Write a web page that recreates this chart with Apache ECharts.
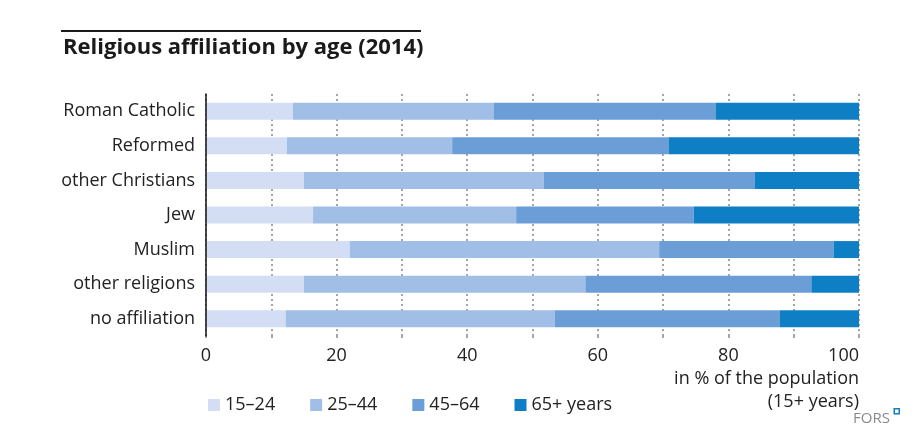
<!DOCTYPE html>
<html>
<head>
<meta charset="utf-8">
<script src="https://cdn.jsdelivr.net/npm/echarts@6/dist/echarts.min.js"></script>
<style>html,body{margin:0;padding:0;background:#fff}#c{width:920px;height:442px}</style>
</head>
<body>
<div id="c"></div>
<script>
const categories = ["Roman Catholic", "Reformed", "other Christians", "Jew", "Muslim", "other religions", "no affiliation"];
const seriesNames = ["15\u201324", "25\u201344", "45\u201364", "65+ years"];
const age15_24 = [13.3, 12.4, 15.0, 16.4, 22.0, 15.0, 12.2];
const age25_44 = [30.8, 25.3, 36.7, 31.1, 47.4, 43.1, 41.2];
const age45_64 = [34.0, 33.2, 32.3, 27.2, 26.7, 34.6, 34.5];
const age65plus = [21.9, 29.1, 16.0, 25.3, 3.9, 7.3, 12.1];
const colors = ["#d3def4", "#a1bee6", "#6b9ed7", "#0f7fc5"];
const FONT = "Open Sans";

const chart = echarts.init(document.getElementById('c'), null, {renderer: 'canvas'});
const values = [age15_24, age25_44, age45_64, age65plus];
chart.setOption({
  animation: false,
  color: colors,
  textStyle: {fontFamily: FONT},
  title: {
    text: "Religious affiliation by age (2014)",
    left: 58, top: 32,
    textStyle: {fontFamily: FONT, fontWeight: 'bold', fontSize: 22, color: '#1a1a1a'}
  },
  graphic: [
    {type: 'line', shape: {x1: 61, y1: 31, x2: 421, y2: 31}, style: {stroke: '#1a1a1a', lineWidth: 2}},
    {type: 'text', right: 61, top: 367, style: {text: "in % of the population\n(15+ years)", font: '18px "' + FONT + '"', fill: '#222', textAlign: 'right', lineHeight: 23}},
    {type: 'text', right: 30, top: 411, style: {text: "FORS", font: '15px "' + FONT + '"', fill: '#8a8a8a', letterSpacing: 2}},
    {type: 'rect', right: 20, top: 408, shape: {width: 5, height: 5}, style: {fill: '#fff', stroke: '#0f7fc5', lineWidth: 1.5}}
  ],
  legend: {
    left: 203, top: 391,
    itemWidth: 12, itemHeight: 12, itemGap: 35,
    icon: 'rect',
    textStyle: {fontFamily: FONT, fontSize: 18, color: '#222'},
    data: seriesNames
  },
  grid: {left: 206, right: 61, top: 94, height: 242},
  xAxis: {
    type: 'value', min: 0, max: 100, interval: 10,
    axisLine: {show: false},
    axisTick: {show: true, length: 5, lineStyle: {color: '#888', type: [2, 3], width: 1.5}},
    splitLine: {show: true, lineStyle: {color: '#888', type: [2, 3], width: 1.5}},
    axisLabel: {
      fontFamily: FONT, fontSize: 18, color: '#222', margin: 11,
      alignMaxLabel: 'right',
      formatter: v => (v % 20 === 0 ? String(v) : '')
    }
  },
  yAxis: {
    type: 'category', data: categories, inverse: true, z: 10,
    axisLine: {show: true, lineStyle: {color: '#111', width: 1.5}},
    axisTick: {show: false},
    axisLabel: {fontFamily: FONT, fontSize: 18, color: '#222', margin: 11}
  },
  series: seriesNames.map((n, i) => ({
    name: n, type: 'bar', stack: 'total', data: values[i],
    barWidth: 17,
    itemStyle: {color: colors[i]}
  }))
});
</script>
</body>
</html>
